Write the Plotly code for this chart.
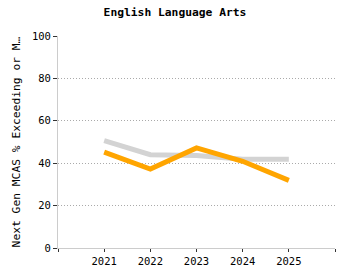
import plotly.graph_objects as go

years = [2021, 2022, 2023, 2024, 2025]
state_vals = [50.7, 44.0, 43.6, 41.9, 41.9]
school_vals = [45.2, 37.2, 47.2, 40.9, 31.9]
tick_years = [2020, 2021, 2022, 2023, 2024, 2025, 2026]
tick_text = ["", "2021", "2022", "2023", "2024", "2025", ""]

FONT = "DejaVu Sans Mono"

fig = go.Figure()
fig.add_trace(go.Scatter(x=years, y=state_vals, mode="lines",
                         line=dict(color="#d3d3d3", width=5), showlegend=False))
fig.add_trace(go.Scatter(x=years, y=school_vals, mode="lines",
                         line=dict(color="#ffa500", width=5), showlegend=False))

fig.update_layout(
    width=350, height=280,
    margin=dict(l=58, r=15, t=36, b=32),
    paper_bgcolor="white", plot_bgcolor="white",
    title=dict(text="<b>English Language Arts</b>", x=0.5, xanchor="center",
               y=1 - 12 / 280, yanchor="middle",
               font=dict(family=FONT, size=11.3, color="black")),
    font=dict(family=FONT, size=10.5, color="black"),
)
fig.update_xaxes(range=[2020, 2026], tickvals=tick_years, ticktext=tick_text,
                 showgrid=False, showline=True, linecolor="#cccccc", linewidth=1,
                 ticks="outside", ticklen=3, tickcolor="#333333",
                 tickfont=dict(family=FONT, size=10.5, color="black"), zeroline=False)
fig.update_yaxes(range=[0, 100], tickvals=[0, 20, 40, 60, 80, 100],
                 showgrid=True, gridcolor="#aaaaaa", griddash="1px,2px", gridwidth=1,
                 showline=True, linecolor="#cccccc", linewidth=1,
                 ticks="outside", ticklen=4, tickcolor="#333333",
                 tickfont=dict(family=FONT, size=10.5, color="black"), zeroline=False,
                 title=dict(text="Next Gen MCAS % Exceeding or M…",
                            font=dict(family=FONT, size=11.3, color="black"), standoff=8))

fig.write_html("out.html")
